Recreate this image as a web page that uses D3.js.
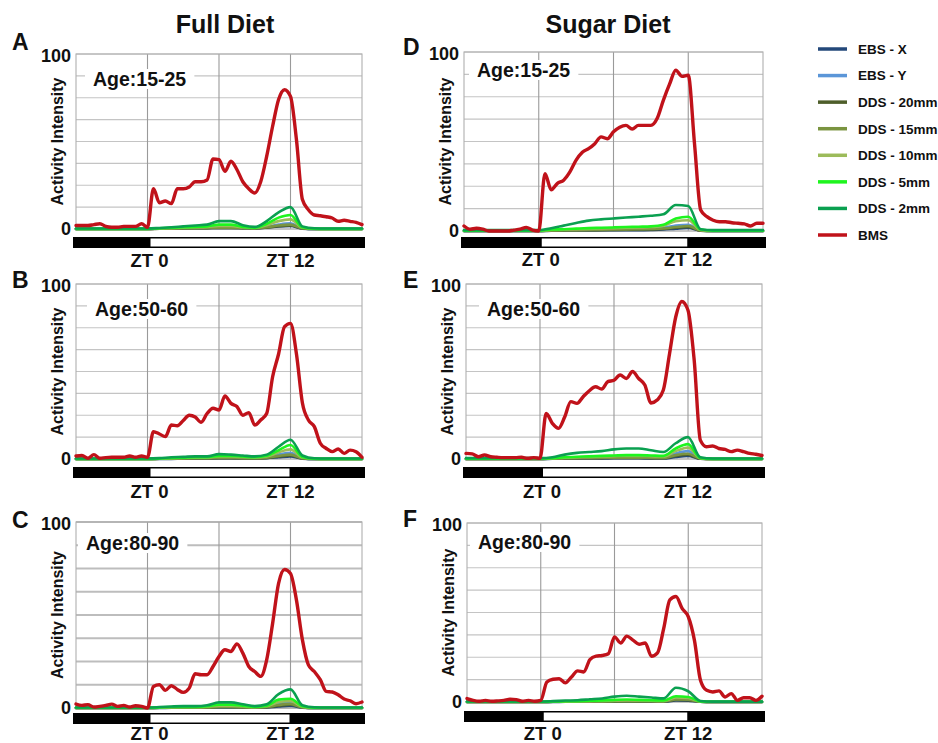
<!DOCTYPE html>
<html><head><meta charset="utf-8">
<script src="https://cdn.jsdelivr.net/npm/d3@7"></script>
<style>body{margin:0;background:#fff}text{font-family:"Liberation Sans",Arial,sans-serif;font-weight:bold}</style>
</head><body>
<svg id="chart" width="938" height="743"></svg>
<script>
// ---------- DATA ----------
const seriesNames = ["EBS - X","EBS - Y","DDS - 20mm","DDS - 15mm","DDS - 10mm","DDS - 5mm","DDS - 2mm","BMS"];
const seriesColors = ["#23487a","#5b96d8","#4e5e2a","#7a9440","#9cbb5a","#1ef51e","#0aa050","#c0121a"];
const hoursHalf = [-6,-5.5,-5,-4.5,-4,-3.5,-3,-2.5,-2,-1.5,-1,-0.5,0,0.5,1,1.5,2,2.5,3,3.5,4,4.5,5,5.5,6,6.5,7,7.5,8,8.5,9,9.5,10,10.5,11,11.5,12,12.5,13,13.5,14,14.5,15,15.5,16,16.5,17,17.5,18];
const hoursFull = [-6,-5,-4,-3,-2,-1,0,1,2,3,4,5,6,7,8,9,10,11,12,13,14,15,16,17,18];
const gridValues = [0,12.5,25,37.5,50,62.5,75,87.5,100];
const yTickLabels = [0,100];
const xGridHours = [0,6,12];
const ztTicks = [0,12];
const ztLabels = ["ZT 0","ZT 12"];
const columnTitles = ["Full Diet","Sugar Diet"];
const panelLetters = ["A","B","C","D","E","F"];
const ageLabels = ["Age:15-25","Age:50-60","Age:80-90","Age:15-25","Age:50-60","Age:80-90"];

// BMS (half-hour samples)
const bmsA = [2,2,2,2.5,3,1.5,1,1,1.5,1.5,1.5,3,1, 23,15,16,14.5,23,23,24,27,27,28,40,39.6, 33,38.7,34,27,23,20.6,27,41.5,58.7,74,79.6,75.8, 51,16.8,11,8,7.6,7,6.3,4.4,5,4.4,3.8,2.5];
const bmsB = [1.7,2,0.4,2.5,0.4,0.8,1,1,1,1.7,1,1.7,1, 15.6,14.3,12.8,19.4,19,22,25,24,21,26,29,28, 36,31.8,30,25,26.5,19.4,22.3,26,47,60,75.6,77.5, 60,32,22.3,18.5,9,6,4.2,5.7,3.2,5.1,4.2,1];
const bmsC = [2.1,1.4,1.8,0.5,0.9,1.4,2.1,0.9,1.4,0.5,1.2,0.9,0, 11.6,12.5,9.5,12,10,8.4,10.7,18.4,17.9,17.9,22.3,27.7, 31.3,30.4,34.5,29.5,22.3,19.6,17,25.9,45.5,67,74.5,72.3, 58,36.6,23.2,19.6,15.2,8.9,8.6,7.1,4.8,3.9,2.3,3.2];
const bmsD = [2.8,1,1.5,1,0,0,0,0,0.5,1,2,0.5,0, 32,23,26.6,28.4,33,39.6,44,46,48.8,52.6,51.5,55.4, 58,59,57,59,59,59,62.8,73,82,89.8,86.4,87, 49,11.7,8,6,5.2,5.2,4.6,4.3,4,2.8,4.3,4.3];
const bmsE = [3.2,2.9,1.3,2.3,1.3,1,0.8,0.8,0.8,1,0.4,0.8,0.4, 26,20.4,17.5,24,32.8,31.8,35.6,39,41.3,40,44.2,45, 48,46,50,46,42.3,32,33.7,39.4,60,81,90,85, 56.6,10.8,7,7.4,6,5.5,4.2,5.1,4.2,3.2,2.7,2];
const bmsF = [1.9,0.9,0.4,0.9,0.4,0.6,0.9,1.5,1.3,0.4,0.9,0.4,0.9, 11.2,12.7,13,10.7,14,17.4,16.8,23.7,25.6,26,27,36.4, 33,36.8,34.6,32.3,33,25.6,27.5,41,57,58.9,52.3,47.7, 34.6,12,6.5,5.6,6.2,2.8,4.7,0.9,2.4,2.4,0.9,3.2];

// Minor series (hourly samples) — panel A
const ebsXA  = [0,0,0,0,0,0,0, 0.2,0.3,0.4,0.5,0.5,0.6,0.6,0.5,0.4,0.8,1.5,1.8,0.2, 0,0,0,0,0];
const ebsYA  = [0,0,0,0,0,0,0, 0.2,0.3,0.5,0.6,0.8,1,1,0.7,0.5,1.2,2.5,3.2,0.5, 0,0,0,0,0];
const dds20A = [0,0,0,0,0,0,0, 0.1,0.2,0.3,0.4,0.5,0.6,0.6,0.5,0.3,0.8,1.6,2,0.3, 0,0,0,0,0];
const dds15A = [0,0,0,0,0,0,0, 0.2,0.3,0.4,0.5,0.6,0.8,0.8,0.6,0.4,1,2,2.5,0.4, 0,0,0,0,0];
const dds10A = [0,0,0,0,0,0,0, 0.3,0.5,0.8,1,1.2,1.8,1.8,1,0.6,2.2,4.5,5.5,0.8, 0.1,0,0,0,0];
const dds5A  = [0.1,0.1,0.1,0.1,0.1,0.1,0.1, 0.4,0.7,1,1.2,1.5,2.5,2.5,1.2,0.8,3,6.5,8,1, 0.2,0.1,0.1,0.1,0.1];
const dds2A  = [0.3,0.3,0.3,0.3,0.3,0.3,0.3, 0.6,1,1.5,2,2.5,4.5,4.5,2.2,1.2,4.5,9.5,12.5,1.5, 0.4,0.3,0.3,0.3,0.3];
// panel B
const ebsXB  = [0,0,0,0,0,0,0, 0.1,0.1,0.2,0.2,0.2,0.4,0.4,0.3,0.2,0.5,1,1.5,0.2, 0,0,0,0,0];
const ebsYB  = [0,0,0,0,0,0,0, 0.2,0.3,0.4,0.5,0.5,0.9,0.9,0.7,0.5,1,2.5,3.5,0.5, 0,0,0,0,0];
const dds20B = [0,0,0,0,0,0,0, 0.1,0.2,0.2,0.3,0.3,0.5,0.5,0.4,0.3,0.6,1.4,2,0.3, 0,0,0,0,0];
const dds15B = [0,0,0,0,0,0,0, 0.1,0.2,0.3,0.4,0.4,0.7,0.7,0.5,0.4,0.8,1.8,2.5,0.4, 0,0,0,0,0];
const dds10B = [0,0,0,0,0,0,0, 0.2,0.4,0.6,0.8,0.8,1.4,1.4,1.1,0.8,1.4,3.8,5.5,0.8, 0.1,0,0,0,0];
const dds5B  = [0.1,0.1,0.1,0.1,0.1,0.1,0.1, 0.3,0.6,0.8,1,1,1.8,1.8,1.4,1,1.8,5,8,1.2, 0.2,0.1,0.1,0.1,0.1];
const dds2B  = [0.3,0.3,0.3,0.3,0.3,0.3,0.3, 0.5,1,1.2,1.5,1.5,2.8,2.5,2,1.5,2.5,7,11,2, 0.4,0.3,0.3,0.3,0.3];
// panel C
const ebsXC  = [0,0,0,0,0,0,0, 0,0.1,0.1,0.1,0.2,0.3,0.3,0.2,0.1,0.3,0.8,1.2,0.2, 0,0,0,0,0];
const ebsYC  = [0,0,0,0,0,0,0, 0.1,0.3,0.3,0.3,0.5,0.9,0.9,0.6,0.3,0.7,2.2,3,0.5, 0,0,0,0,0];
const dds20C = [0,0,0,0,0,0,0, 0.1,0.1,0.2,0.2,0.2,0.5,0.5,0.3,0.2,0.4,1.2,1.8,0.3, 0,0,0,0,0];
const dds15C = [0,0,0,0,0,0,0, 0.1,0.2,0.2,0.2,0.3,0.6,0.6,0.4,0.2,0.5,1.6,2.2,0.3, 0,0,0,0,0];
const dds10C = [0,0,0,0,0,0,0, 0.2,0.4,0.5,0.5,0.7,1.3,1.3,0.9,0.5,0.9,3.2,3.8,0.7, 0.1,0,0,0,0];
const dds5C  = [0.1,0.1,0.1,0.1,0.1,0.1,0.1, 0.3,0.5,0.6,0.6,0.9,1.8,1.8,1.2,0.6,1.2,4.5,5,1, 0.2,0.1,0.1,0.1,0.1];
const dds2C  = [0.3,0.3,0.3,0.3,0.3,0.3,0.3, 0.5,0.8,1,1,1.5,3,3,2,1,2,7.5,10,1.5, 0.4,0.3,0.3,0.3,0.3];
// panel D
const ebsXD  = [0,0,0,0,0,0,0, 0.1,0.2,0.3,0.3,0.4,0.4,0.5,0.5,0.6,0.8,1.3,1.7,0.2, 0,0,0,0,0];
const ebsYD  = [0,0,0,0,0,0,0, 0.4,0.5,0.7,0.8,1,1.1,1.2,1.3,1.5,1.8,3,3.5,0.4, 0,0,0,0,0];
const dds20D = [0,0,0,0,0,0,0, 0.2,0.3,0.4,0.5,0.5,0.6,0.7,0.8,0.9,1.1,1.8,2.3,0.2, 0,0,0,0,0];
const dds15D = [0,0,0,0,0,0,0, 0.3,0.4,0.5,0.6,0.7,0.8,0.9,1,1.1,1.4,2.2,2.8,0.3, 0,0,0,0,0];
const dds10D = [0.1,0.1,0.1,0.1,0.1,0.1,0.1, 0.6,0.8,1,1.2,1.4,1.6,1.8,2,2.2,3,5.5,6,0.6, 0.1,0.1,0.1,0.1,0.1];
const dds5D  = [0.2,0.2,0.2,0.2,0.2,0.2,0.2, 0.8,1,1.3,1.6,1.8,2,2.2,2.4,2.6,3.5,7,8,0.8, 0.2,0.2,0.2,0.2,0.2];
const dds2D  = [0.5,0.5,0.5,0.5,0.5,0.5,0.5, 1.5,3,4.5,5.8,6.5,7,7.5,8,8.5,9.3,14.5,14,1, 0.5,0.5,0.5,0.5,0.5];
// panel E
const ebsXE  = [0,0,0,0,0,0,0, 0.1,0.2,0.2,0.3,0.3,0.4,0.4,0.4,0.3,0.3,1.2,1.8,0.1, 0,0,0,0,0];
const ebsYE  = [0,0,0,0,0,0,0, 0.3,0.5,0.7,0.8,0.9,1,1.1,1.1,1,0.9,3.2,4.5,0.4, 0,0,0,0,0];
const dds20E = [0,0,0,0,0,0,0, 0.2,0.3,0.4,0.4,0.5,0.6,0.6,0.6,0.5,0.5,1.7,2.4,0.2, 0,0,0,0,0];
const dds15E = [0,0,0,0,0,0,0, 0.2,0.4,0.5,0.6,0.7,0.8,0.8,0.8,0.7,0.6,2.2,3,0.3, 0,0,0,0,0];
const dds10E = [0.1,0.1,0.1,0.1,0.1,0.1,0.1, 0.4,0.8,1,1.2,1.4,1.6,1.8,1.8,1.6,1.4,4.5,6.5,0.5, 0,0,0,0,0];
const dds5E  = [0.2,0.2,0.2,0.2,0.2,0.2,0.2, 0.5,1,1.3,1.5,1.8,2,2.2,2.2,2,1.8,6,8.5,0.6, 0.1,0.1,0.1,0.1,0.1];
const dds2E  = [0.5,0.5,0.5,0.5,0.5,0.5,0.5, 1,2.5,3.5,4,4.5,5.5,6,6,5,4,9,12.5,1, 0.3,0.3,0.3,0.3,0.3];
// panel F
const ebsXF  = [0,0,0,0,0,0,0, 0,0.1,0.1,0.1,0.2,0.2,0.3,0.2,0.2,0.2,0.8,0.7,0.1, 0,0,0,0,0];
const ebsYF  = [0,0,0,0,0,0,0, 0.1,0.2,0.3,0.4,0.4,0.6,0.7,0.6,0.5,0.4,1.8,1.6,0.2, 0,0,0,0,0];
const dds20F = [0,0,0,0,0,0,0, 0.1,0.1,0.2,0.2,0.3,0.3,0.4,0.3,0.3,0.3,1.1,1,0.1, 0,0,0,0,0];
const dds15F = [0,0,0,0,0,0,0, 0.1,0.2,0.2,0.3,0.3,0.4,0.5,0.4,0.4,0.3,1.4,1.3,0.1, 0,0,0,0,0];
const dds10F = [0,0,0,0,0,0,0, 0.2,0.3,0.4,0.5,0.6,0.8,1,0.9,0.7,0.6,2.5,2.2,0.2, 0,0,0,0,0];
const dds5F  = [0.1,0.1,0.1,0.1,0.1,0.1,0.1, 0.3,0.4,0.5,0.7,0.9,1.2,1.4,1.2,1,0.9,3.2,2.8,0.3, 0.1,0.1,0.1,0.1,0.1];
const dds2F  = [0.3,0.3,0.3,0.3,0.3,0.3,0.3, 0.5,0.8,1,1.5,2,3,3.5,3,2.5,2,8,6,0.6, 0.2,0.2,0.2,0.2,0.2];

const panelSeries = [
  [ebsXA,ebsYA,dds20A,dds15A,dds10A,dds5A,dds2A,bmsA],
  [ebsXB,ebsYB,dds20B,dds15B,dds10B,dds5B,dds2B,bmsB],
  [ebsXC,ebsYC,dds20C,dds15C,dds10C,dds5C,dds2C,bmsC],
  [ebsXD,ebsYD,dds20D,dds15D,dds10D,dds5D,dds2D,bmsD],
  [ebsXE,ebsYE,dds20E,dds15E,dds10E,dds5E,dds2E,bmsE],
  [ebsXF,ebsYF,dds20F,dds15F,dds10F,dds5F,dds2F,bmsF]
];

// ---------- LAYOUT ----------
const layouts = [
  {x0:76, x1:362, y0:54,  y1:229, barY:237, barH:11, ztY:267, letter:[12,50],  age:[93,86]},
  {x0:76, x1:362, y0:284, y1:459, barY:467, barH:11, ztY:498, letter:[12,288], age:[95,316]},
  {x0:76, x1:362, y0:522, y1:708, barY:713, barH:11, ztY:740, letter:[12,528], age:[86,550]},
  {x0:464,x1:763, y0:52,  y1:231, barY:237, barH:11, ztY:266, letter:[403,55], age:[477,77]},
  {x0:466,x1:762, y0:284, y1:459, barY:467, barH:11, ztY:498, letter:[403,288],age:[487,316]},
  {x0:467,x1:762, y0:523, y1:702, barY:711, barH:11, ztY:740, letter:[403,527],age:[478,549]}
];
const titlePos = [[225,33],[608,33]];

const svg = d3.select("#chart");
svg.append("rect").attr("width",938).attr("height",743).attr("fill","#fff");

columnTitles.forEach((t,i)=>{
  svg.append("text").attr("x",titlePos[i][0]).attr("y",titlePos[i][1])
    .attr("text-anchor","middle").attr("font-size",25).attr("fill","#111").text(t);
});

layouts.forEach((L,pi)=>{
  const x = d3.scaleLinear().domain([-6,18]).range([L.x0,L.x1]);
  const y = d3.scaleLinear().domain([0,100]).range([L.y1,L.y0]);
  const g = svg.append("g");

  g.selectAll(".hg").data(gridValues).join("line")
    .attr("x1",L.x0).attr("x2",L.x1).attr("y1",d=>y(d)).attr("y2",d=>y(d))
    .attr("stroke", pi===2 ? "#bdbdbd" : "#c4c4c4").attr("stroke-width", pi===2 ? 1.8 : 1.1);
  g.selectAll(".vg").data(xGridHours).join("line")
    .attr("x1",d=>x(d)).attr("x2",d=>x(d)).attr("y1",L.y0).attr("y2",L.y1)
    .attr("stroke","#9a9a9a").attr("stroke-width",1.1);
  g.append("rect").attr("x",L.x0).attr("y",L.y0).attr("width",L.x1-L.x0).attr("height",L.y1-L.y0)
    .attr("fill","none").attr("stroke","#b0b0b0").attr("stroke-width",1.1);

  g.selectAll(".yl").data(yTickLabels).join("text")
    .attr("x",L.x0-5).attr("y",d=>y(d)+ (d===100?2:0)).attr("dy","0.36em")
    .attr("text-anchor","end").attr("font-size",18).attr("fill","#111").text(d=>d);
  const cy = (L.y0+L.y1)/2;
  g.append("text").attr("transform",`translate(${L.x0-13},${cy}) rotate(-90)`)
    .attr("text-anchor","middle").attr("font-size",16).attr("fill","#111").text("Activity Intensity");

  g.append("text").attr("x",L.letter[0]).attr("y",L.letter[1]).attr("font-size",23).attr("fill","#111").text(panelLetters[pi]);

  const series = panelSeries[pi];
  series.forEach((vals,si)=>{
    const xs = vals.length===hoursHalf.length ? hoursHalf : hoursFull;
    const pts = vals.map((v,i)=>[xs[i],v]);
    const line = d3.line().x(d=>x(d[0])).y(d=>y(d[1])).curve(d3.curveMonotoneX);
    g.append("path").attr("d",line(pts)).attr("fill","none")
      .attr("stroke",seriesColors[si]).attr("stroke-width", si===7 ? 3.4 : 2.6)
      .attr("stroke-linejoin","round").attr("stroke-linecap","round");
  });

  const at = g.append("text").attr("x",L.age[0]).attr("y",L.age[1]).attr("font-size",19.5).attr("fill","#111").text(ageLabels[pi]);
  const bb = at.node().getBBox();
  g.insert("rect", () => at.node()).attr("x",bb.x-8).attr("y",bb.y+1).attr("width",bb.width+16).attr("height",bb.height-2).attr("fill","#fff");

  g.append("rect").attr("x",x(-6)-3).attr("y",L.barY).attr("width",x(18)-x(-6)+6).attr("height",L.barH).attr("fill","#000");
  g.append("rect").attr("x",x(0)+3).attr("y",L.barY+1.5).attr("width",x(12)-x(0)-4).attr("height",L.barH-3).attr("fill","#fff");

  g.selectAll(".zt").data(ztTicks).join("text")
    .attr("x",(d)=>x(d)+(d===0?2:0)).attr("y",L.ztY).attr("text-anchor","middle")
    .attr("font-size",18.5).attr("fill","#111").text((d,i)=>ztLabels[i]);
});

const legend = svg.append("g");
const ly = d3.scalePoint().domain(seriesNames).range([49,235]);
seriesNames.forEach((n,i)=>{
  legend.append("line").attr("x1",818).attr("x2",847).attr("y1",ly(n)).attr("y2",ly(n))
    .attr("stroke",seriesColors[i]).attr("stroke-width",3.5);
  legend.append("text").attr("x",858).attr("y",ly(n)).attr("dy","0.36em")
    .attr("font-size",13.5).attr("fill","#111").text(n);
});
</script>
</body></html>
